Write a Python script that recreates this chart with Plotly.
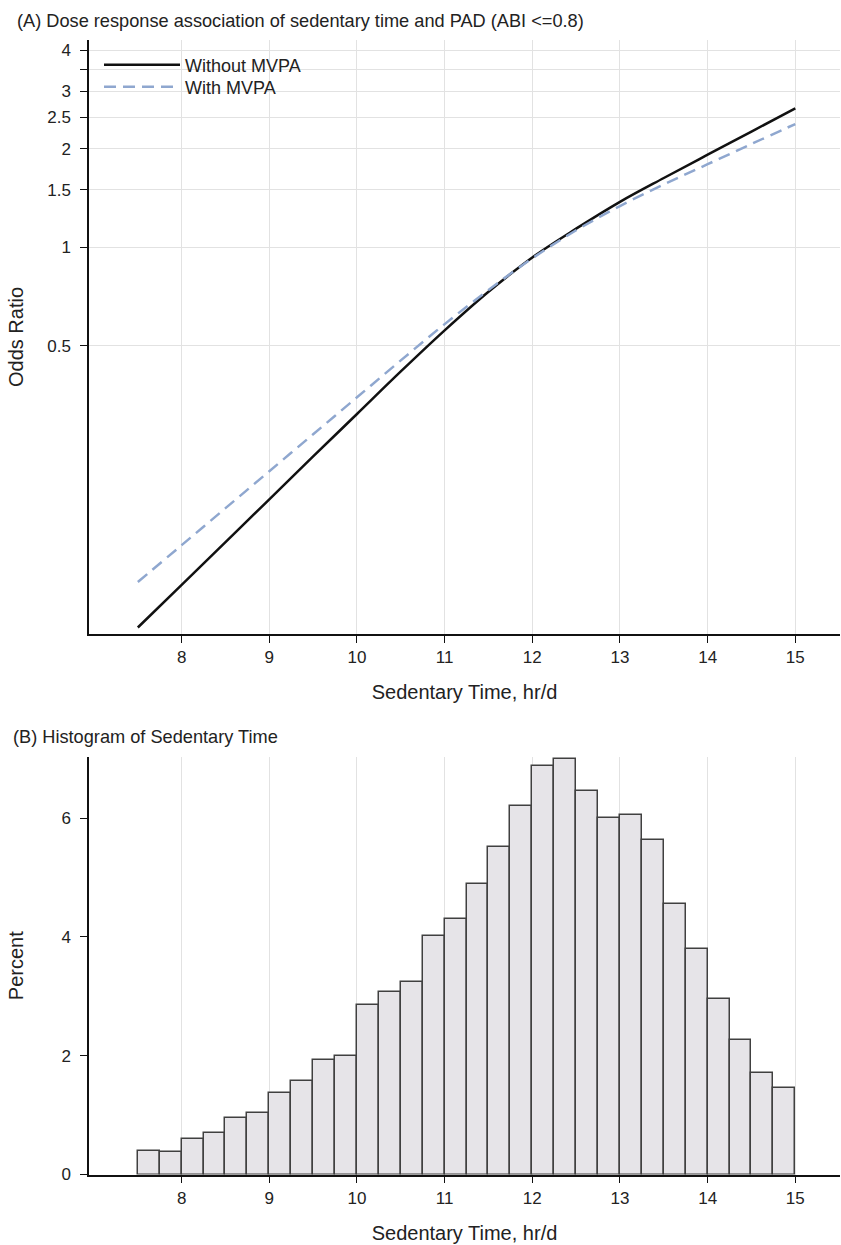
import plotly.graph_objects as go

# ---- Data: dose response (odds ratio) ----
sed_time = [7.5, 8.0, 8.5, 9.0, 9.5, 10.0, 10.5, 11.0, 11.5, 12.0, 12.5, 13.0, 13.5, 14.0, 14.5, 15.0]
or_without_mvpa = [0.0687, 0.0927, 0.1253, 0.1694, 0.2291, 0.309, 0.417, 0.557, 0.731, 0.931,
                   1.140, 1.377, 1.629, 1.919, 2.259, 2.661]
or_with_mvpa = [0.0946, 0.1227, 0.1592, 0.2065, 0.2679, 0.3475, 0.4508, 0.582, 0.740, 0.925,
                1.127, 1.337, 1.556, 1.795, 2.070, 2.382]

# ---- Data: histogram ----
bin_lower = [7.5, 7.75, 8.0, 8.25, 8.5, 8.75, 9.0, 9.25, 9.5, 9.75,
             10.0, 10.25, 10.5, 10.75, 11.0, 11.25, 11.5, 11.75, 12.0, 12.25,
             12.5, 12.75, 13.0, 13.25, 13.5, 13.75, 14.0, 14.25, 14.5, 14.75]
bin_width = 0.25
percent = [0.39, 0.375, 0.605, 0.70, 0.958, 1.042, 1.378, 1.575, 1.933, 2.0,
           2.846, 3.07, 3.24, 4.02, 4.30, 4.90, 5.51, 6.21, 6.88, 6.99,
           6.45, 6.00, 6.06, 5.63, 4.55, 3.80, 2.96, 2.26, 1.71, 1.46]

# ---- Tick labels ----
x_ticks = [8, 9, 10, 11, 12, 13, 14, 15]
or_tickvals = [0.5, 1, 1.5, 2, 2.5, 3, 3.5, 4]
or_ticktext = ["0.5", "1", "1.5", "2", "2.5", "3", "", "4"]
pct_ticks = [0, 2, 4, 6]

W, H = 841, 1245
FONT = "Liberation Sans, Arial, sans-serif"

fig = go.Figure()

fig.add_trace(go.Scatter(
    x=sed_time, y=or_without_mvpa, mode="lines", name="Without MVPA",
    line=dict(color="#111111", width=2.5, shape="spline", smoothing=1.0),
    xaxis="x", yaxis="y", legend="legend"))
fig.add_trace(go.Scatter(
    x=sed_time, y=or_with_mvpa, mode="lines", name="With MVPA",
    line=dict(color="#8fa7cf", width=2.5, dash="12px,7px", shape="spline", smoothing=1.0),
    xaxis="x", yaxis="y", legend="legend2"))

fig.add_trace(go.Bar(
    x=bin_lower, y=percent, width=bin_width, offset=0,
    marker=dict(color="#e6e4e8", line=dict(color="#404040", width=1.5)),
    showlegend=False, xaxis="x2", yaxis="y2"))

xdom = [89 / W, 840 / W]
xrange_ = [6.943, 15.51]

axis_common = dict(
    showline=True, linecolor="#111111", linewidth=1.5,
    ticks="outside", ticklen=7, tickwidth=1.3, tickcolor="#111111",
    tickfont=dict(size=17, color="#222222", family=FONT),
    gridcolor="#e2e2e2", gridwidth=1, zeroline=False, automargin=False,
)

legend_common = dict(xanchor="left", yanchor="middle", bgcolor="rgba(0,0,0,0)",
                     font=dict(size=18, family=FONT, color="#222222"), itemwidth=76)

fig.update_layout(
    width=W, height=H,
    margin=dict(l=0, r=0, t=0, b=0),
    paper_bgcolor="white", plot_bgcolor="white",
    font=dict(family=FONT, color="#222222"),
    template="none",
    showlegend=True,
    legend=dict(x=99 / W, y=1 - 65 / H, **legend_common),
    legend2=dict(x=99 / W, y=1 - 87 / H, **legend_common),
    bargap=0,
    xaxis=dict(domain=xdom, range=xrange_, tickvals=x_ticks, showgrid=True,
               anchor="y",
               title=dict(text="Sedentary Time, hr/d", font=dict(size=20, family=FONT), standoff=19),
               **axis_common),
    yaxis=dict(domain=[1 - 634 / H, 1 - 40 / H], type="log", range=[-1.183, 0.634],
               tickvals=or_tickvals, ticktext=or_ticktext, showgrid=True, anchor="x",
               ticklabelstandoff=6,
               title=dict(text="Odds Ratio", font=dict(size=20, family=FONT), standoff=18),
               **axis_common),
    xaxis2=dict(domain=xdom, range=xrange_, tickvals=x_ticks, showgrid=True,
                anchor="y2",
                title=dict(text="Sedentary Time, hr/d", font=dict(size=20, family=FONT), standoff=19),
                **axis_common),
    yaxis2=dict(domain=[1 - 1174.5 / H, 1 - 757 / H], range=[0, 7.03],
                tickvals=pct_ticks, showgrid=False, anchor="x2",
                ticklabelstandoff=6,
                title=dict(text="Percent", font=dict(size=20, family=FONT), standoff=32),
                **axis_common),
    annotations=[
        dict(text="(A) Dose response association of sedentary time and PAD (ABI <=0.8)",
             x=15 / W, y=1 - 21 / H, xref="paper", yref="paper",
             xanchor="left", yanchor="middle", showarrow=False,
             font=dict(size=18.2, family=FONT, color="#222222")),
        dict(text="(B) Histogram of Sedentary Time",
             x=11 / W, y=1 - 737 / H, xref="paper", yref="paper",
             xanchor="left", yanchor="middle", showarrow=False,
             font=dict(size=18.2, family=FONT, color="#222222")),
    ],
)

fig.write_html("out.html",
               config={"displayModeBar": False},
               post_script="document.body.style.margin='0';document.body.style.overflow='hidden';")
